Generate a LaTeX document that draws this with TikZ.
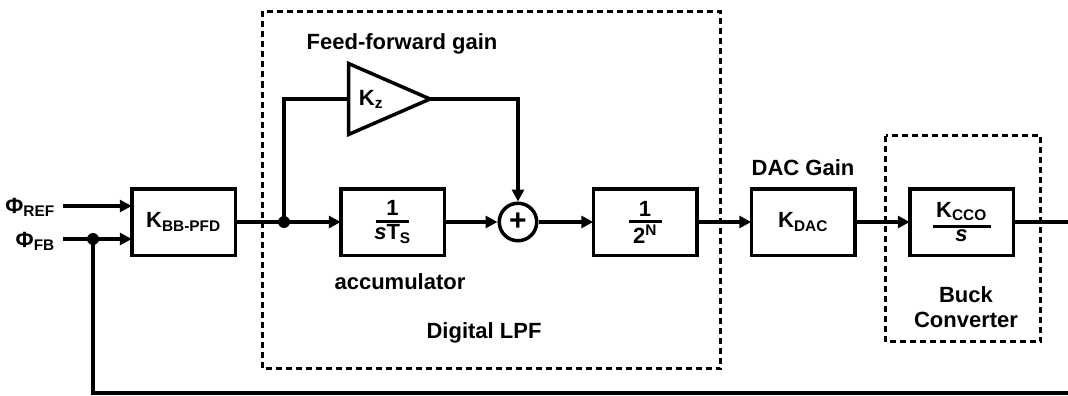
\documentclass[tikz,border=0pt]{standalone}
\usepackage{fontspec}
\setmainfont{Liberation Sans}
\usetikzlibrary{arrows.meta}

% stacked fraction: numerator, bar of given width, denominator
\newcommand{\blkfrac}[3]{\shortstack{#1\\[1pt]\rule{#3}{3pt}\\[-1pt]#2}}

\begin{document}
\begin{tikzpicture}[x=1pt,y=-1pt,
  every node/.style={font=\fontsize{22}{26}\selectfont\bfseries},
  wire/.style={line width=3.5pt},
  sig/.style={wire,-{Triangle[length=12pt,width=12pt]}},
  blockbox/.style={draw,line width=3.5pt,minimum width=103.5pt,minimum height=66.5pt,
    inner sep=0pt,outer sep=0pt},
  group/.style={draw,line width=3.5pt,dash pattern=on 6pt off 4pt},
  dot/.style={circle,fill,minimum size=12pt,inner sep=0pt},
  lbl/.style={anchor=base,inner sep=0pt}]
\useasboundingbox (0,0) rectangle (1068,396);

% dashed groupings
\draw[group] (262.5,11.5) rectangle (720.5,368.5);
\draw[group] (885.5,135.5) rectangle (1040.5,341.5);

% input labels
\node[lbl,anchor=base east] (phiref) at (55,213) {Φ\textsubscript{REF}};
\node[lbl,anchor=base east] (phifb) at (55,247) {Φ\textsubscript{FB}};
\coordinate (refin) at (63,206);
\coordinate (fbin) at (63,239);

% blocks
\node[blockbox] (pfd) at (183.5,222) {K\textsubscript{BB-PFD}};
\node[blockbox] (acc) at (392.5,222) {\blkfrac{1}{\textit{s}T\textsubscript{S}}{33pt}};
\node[draw,circle,line width=3.5pt,minimum size=37.5pt,inner sep=0pt] (sum) at (518,222)
  {\fontsize{30}{30}\selectfont +};
\node[blockbox] (div) at (645,222) {\blkfrac{1}{2\textsuperscript{N}}{33pt}};
\node[blockbox] (dac) at (803,222) {K\textsubscript{DAC}};
\node[blockbox] (cco) at (961.5,222) {\blkfrac{K\textsubscript{CCO}}{\textit{s}}{58pt}};

% feed-forward amplifier
\coordinate (ampin) at (348.5,99);
\coordinate (ampout) at (430,99);
\draw[wire,line join=miter] (348.5,63.5) -- (ampout) -- (348.5,134.5) -- cycle;
\node (kz) at (371,99) {K\textsubscript{z}};

% branch points
\node[dot] (split) at (284,222) {};
\node[dot] (fbdot) at (93,239) {};
\coordinate (out) at (1068,222);
\coordinate (fbr) at (1068,393);
\coordinate (fbl) at (93,393);

% signal path
\draw[sig] (refin) -- (refin -| pfd.west);
\draw[sig] (fbin) -- (fbin -| pfd.west);
\draw[wire] (pfd.east) -- (split.center);
\draw[sig] (split.center) -- (acc.west);
\draw[sig] (acc.east) -- (sum.west);
\draw[sig] (sum.east) -- (div.west);
\draw[sig] (div.east) -- (dac.west);
\draw[sig] (dac.east) -- (cco.west);
\draw[wire] (cco.east) -- (out);
\draw[wire] (split.center) |- (ampin);
\draw[sig] (ampout) -| (sum.north);
\draw[wire] (fbr) -- (fbl) -- (fbdot.center);

% annotations
\node[lbl] (fflbl) at (402,49) {Feed-forward gain};
\node[lbl] (acclbl) at (400,289) {accumulator};
\node[lbl] (lpflbl) at (484,338) {Digital LPF};
\node[lbl] (daclbl) at (803,175) {DAC Gain};
\node[lbl] (buck1) at (966,302) {Buck};
\node[lbl] (buck2) at (966,327) {Converter};
\end{tikzpicture}
\end{document}
